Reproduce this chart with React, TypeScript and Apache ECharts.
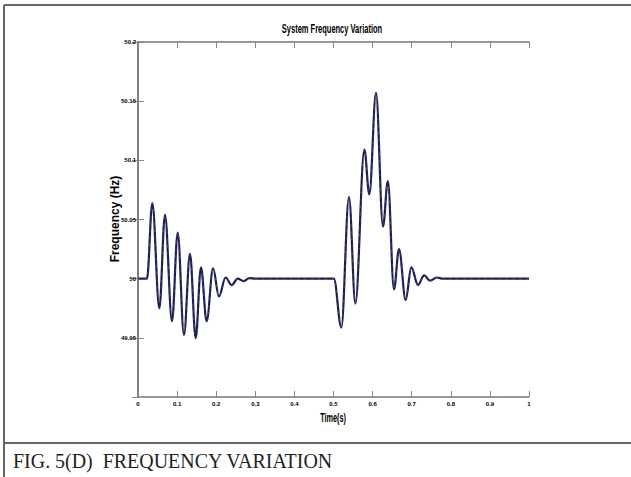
import React, { useEffect, useRef } from "react";
import * as echarts from "echarts";

const timeS = [0, 0.023, 0.0366, 0.0546, 0.069, 0.087, 0.1015, 0.1176, 0.133, 0.1475, 0.161, 0.1756, 0.192, 0.207, 0.224, 0.2395, 0.255, 0.27, 0.285, 0.3, 0.501, 0.52, 0.5396, 0.556, 0.579, 0.5916, 0.6087, 0.6266, 0.639, 0.6547, 0.6675, 0.6846, 0.699, 0.716, 0.732, 0.747, 0.764, 0.78, 1.0];
const freqHz = [50, 50, 50.0638, 49.975, 50.054, 49.964, 50.039, 49.9525, 50.021, 49.9497, 50.0096, 49.964, 50.0088, 49.985, 50.001, 49.9946, 50.0, 49.998, 50.0005, 50, 50, 49.9587, 50.069, 49.979, 50.109, 50.0712, 50.157, 50.044, 50.0825, 49.991, 50.025, 49.982, 50.0096, 49.9947, 50.0028, 49.9983, 50.001, 50, 50];

const titleText = "System Frequency Variation";
const xName = "Time(s)";
const yName = "Frequency (Hz)";
const caption = "FIG. 5(D)  FREQUENCY VARIATION";

const sans = "'Liberation Sans', Arial, sans-serif";

export default function App() {
  const ref = useRef<HTMLDivElement>(null);
  useEffect(() => {
    document.body.style.margin = "0";
    const chart = echarts.init(ref.current!, null, { renderer: "svg" });
    const data = timeS.map((t, i) => [t, freqHz[i]]);
    const axisLine = { show: true, lineStyle: { color: "#777", width: 1.5 } };
    const axisTick = { show: true, inside: true, length: 6, lineStyle: { color: "#888", width: 1 } };
    const tickLabel = {
      fontFamily: sans,
      fontWeight: "bold",
      fontSize: 6,
      color: "#000",
      formatter: (v: number) => String(+v.toFixed(2)),
    };
    chart.setOption({
      animation: false,
      backgroundColor: "#fff",
      grid: { left: 138, right: 102, top: 42, bottom: 80 },
      xAxis: [
        {
          type: "value",
          min: 0,
          max: 1,
          interval: 0.1,
          axisLine,
          axisTick,
          splitLine: { show: false },
          axisLabel: { margin: 4, ...tickLabel },
        },
        {
          type: "value",
          position: "top",
          min: 0,
          max: 1,
          interval: 0.1,
          axisLine,
          axisTick,
          axisLabel: { show: false },
          splitLine: { show: false },
        },
      ],
      yAxis: [
        {
          type: "value",
          min: 49.9,
          max: 50.2,
          interval: 0.05,
          axisLine,
          axisTick,
          splitLine: { show: false },
          axisLabel: { margin: 2, showMinLabel: false, ...tickLabel },
        },
        {
          type: "value",
          position: "right",
          min: 49.9,
          max: 50.2,
          interval: 0.05,
          axisLine,
          axisTick,
          axisLabel: { show: false },
          splitLine: { show: false },
        },
      ],
      series: [
        {
          type: "line",
          data,
          showSymbol: false,
          symbol: "none",
          smooth: 0.36,
          smoothMonotone: "x",
          lineStyle: { color: "#1c1c58", width: 2.2 },
        },
        {
          type: "line",
          data,
          showSymbol: false,
          symbol: "none",
          smooth: 0.36,
          smoothMonotone: "x",
          lineStyle: { color: "#e6dfa8", width: 0.7, type: [2, 5], opacity: 0.35 },
        },
      ],
      graphic: [
        { type: "line", shape: { x1: 4, y1: 5, x2: 631, y2: 5 }, style: { stroke: "#333", lineWidth: 1.5 } },
        { type: "line", shape: { x1: 4, y1: 5, x2: 4, y2: 477 }, style: { stroke: "#666", lineWidth: 2 } },
        { type: "line", shape: { x1: 4, y1: 443, x2: 631, y2: 443 }, style: { stroke: "#666", lineWidth: 2 } },
        {
          type: "text",
          x: 332,
          y: 29,
          scaleX: 0.6,
          style: {
            text: titleText,
            fontFamily: sans,
            fontWeight: "bold",
            fontSize: 12.5,
            fill: "#000",
            align: "center",
            verticalAlign: "middle",
          },
        },
        {
          type: "text",
          x: 333,
          y: 417,
          scaleX: 0.56,
          style: {
            text: xName,
            fontFamily: sans,
            fontWeight: "bold",
            fontSize: 13,
            fill: "#000",
            align: "center",
            verticalAlign: "middle",
          },
        },
        {
          type: "text",
          x: 115,
          y: 219,
          rotation: Math.PI / 2,
          style: {
            text: yName,
            fontFamily: sans,
            fontWeight: "bold",
            fontSize: 12,
            fill: "#000",
            align: "center",
            verticalAlign: "middle",
          },
        },
        {
          type: "text",
          x: 13,
          y: 461,
          scaleX: 0.95,
          style: {
            text: caption,
            fontFamily: "'Liberation Serif', 'Times New Roman', serif",
            fontSize: 21,
            fill: "#222",
            verticalAlign: "middle",
            align: "left",
          },
        },
      ],
    });
    return () => chart.dispose();
  }, []);
  return <div ref={ref} style={{ width: 631, height: 477 }} />;
}
